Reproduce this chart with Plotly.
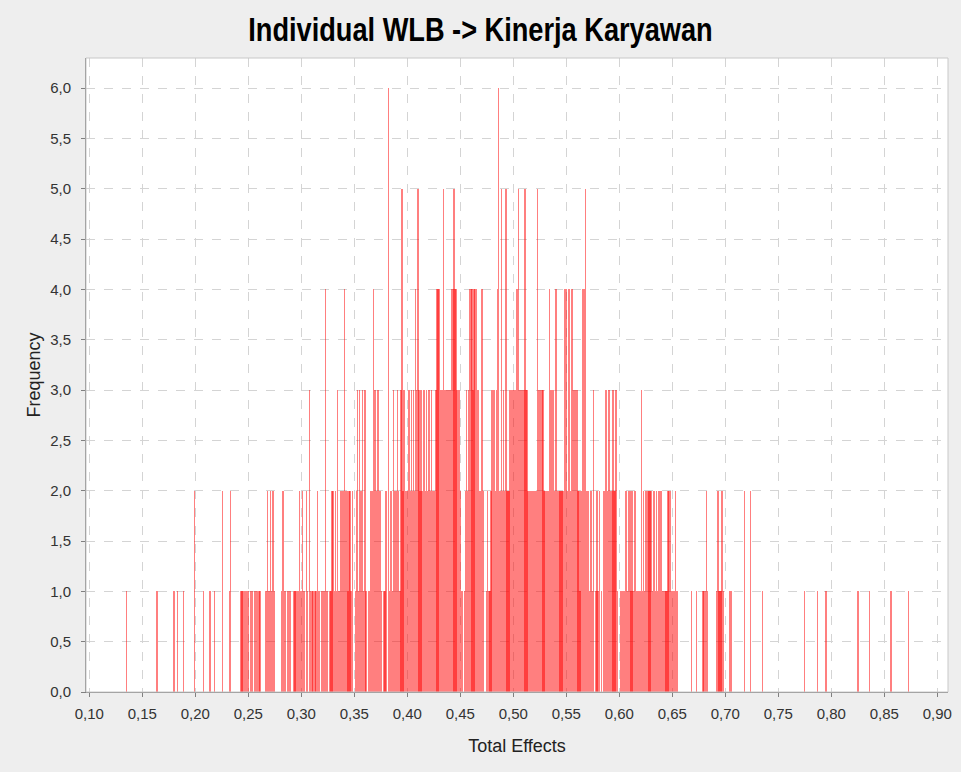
import plotly.graph_objects as go

# Histogram of bootstrap total effects: bins of width 0.001 starting at 0.130
bin_start = 0.130
bin_width = 0.001
frequency = [
    0,0,0,0,0,1,0,0,0,0,  # 0.13
    0,0,0,0,0,0,0,0,0,0,  # 0.14
    0,0,0,0,0,0,0,0,0,0,  # 0.15
    0,0,0,0,1,0,0,0,0,0,  # 0.16
    0,0,0,0,0,0,0,0,0,0,  # 0.17
    1,0,0,1,0,0,0,0,0,1,  # 0.18
    0,0,0,0,0,0,0,0,0,2,  # 0.19
    0,0,0,0,0,0,0,0,1,0,  # 0.20
    0,0,0,0,1,0,0,0,1,0,  # 0.21
    0,0,0,0,0,0,2,0,0,0,  # 0.22
    0,0,1,2,0,0,0,0,0,0,  # 0.23
    0,0,0,1,1,1,0,1,1,1,  # 0.24
    1,0,1,1,1,0,1,1,1,1,  # 0.25
    1,1,0,0,0,0,1,1,2,1,  # 0.26
    1,2,1,2,2,1,0,0,0,0,  # 0.27
    0,1,2,2,1,1,0,1,1,1,  # 0.28
    1,0,0,1,1,1,0,1,2,1,  # 0.29
    1,2,1,1,0,2,1,0,3,1,  # 0.30
    1,1,0,1,1,2,1,1,0,1,  # 0.31
    1,1,1,4,1,1,0,1,1,2,  # 0.32
    2,1,2,1,3,1,1,2,2,2,  # 0.33
    2,4,2,2,1,2,2,1,2,0,  # 0.34
    0,1,2,3,1,3,2,2,3,1,  # 0.35
    3,1,0,0,1,2,2,2,4,3,  # 0.36
    3,2,3,3,2,2,1,0,1,1,  # 0.37
    2,0,6,1,2,2,1,3,2,2,  # 0.38
    2,3,2,1,3,5,2,3,2,2,  # 0.39
    2,3,3,2,3,2,3,2,4,3,  # 0.40
    5,3,2,3,2,3,3,2,3,2,  # 0.41
    3,3,2,3,2,2,2,3,4,4,  # 0.42
    4,3,3,3,5,3,3,3,3,3,  # 0.43
    3,3,4,4,5,4,4,3,3,3,  # 0.44
    2,1,1,0,1,2,3,2,3,4,  # 0.45
    4,4,3,4,4,4,3,3,2,2,  # 0.46
    4,4,2,0,0,1,2,1,1,2,  # 0.47
    3,3,3,2,3,4,6,2,2,5,  # 0.48
    2,3,2,5,2,2,2,3,3,3,  # 0.49
    3,3,3,4,4,5,3,3,3,3,  # 0.50
    3,5,3,3,2,2,2,2,2,2,  # 0.51
    2,2,2,5,3,3,3,3,3,2,  # 0.52
    2,2,2,2,4,3,3,3,3,2,  # 0.53
    4,4,2,2,2,2,2,2,4,4,  # 0.54
    4,2,4,4,2,4,4,3,3,3,  # 0.55
    3,2,2,1,2,4,4,4,5,2,  # 0.56
    2,2,1,2,2,1,3,0,1,2,  # 0.57
    1,2,0,1,0,2,2,3,3,2,  # 0.58
    3,3,2,2,3,2,2,3,1,0,  # 0.59
    0,1,1,1,1,1,2,2,1,2,  # 0.60
    2,1,2,1,2,2,1,1,1,1,  # 0.61
    1,3,1,2,1,2,2,2,2,2,  # 0.62
    2,1,2,2,1,2,1,2,2,2,  # 0.63
    2,1,1,1,1,1,2,2,2,1,  # 0.64
    1,1,1,2,1,1,0,0,0,0,  # 0.65
    0,0,0,0,0,0,0,0,1,0,  # 0.66
    0,0,0,1,0,0,0,0,0,1,  # 0.67
    1,1,2,1,0,0,0,0,0,0,  # 0.68
    0,0,1,2,1,1,1,2,1,0,  # 0.69
    0,0,0,0,1,1,1,0,0,0,  # 0.70
    0,0,0,0,0,0,0,0,2,0,  # 0.71
    0,0,0,0,2,0,0,0,0,0,  # 0.72
    0,0,0,0,0,1,0,0,0,0,  # 0.73
    0,0,0,0,0,0,0,0,0,0,  # 0.74
    0,0,0,0,0,0,0,0,0,0,  # 0.75
    0,0,0,0,0,0,0,0,0,0,  # 0.76
    0,0,0,0,0,1,0,0,0,0,  # 0.77
    0,0,0,0,0,0,0,1,0,0,  # 0.78
    0,0,0,0,0,1,0,0,0,0,  # 0.79
    0,0,0,0,0,0,0,0,0,0,  # 0.80
    0,0,0,0,0,0,0,0,0,0,  # 0.81
    0,0,0,0,0,1,1,0,0,0,  # 0.82
    0,0,0,0,0,0,1,0,0,0,  # 0.83
    0,0,0,0,0,0,0,0,0,0,  # 0.84
    0,0,0,0,0,0,1,1,0,0,  # 0.85
    0,0,0,0,0,0,0,0,0,0,  # 0.86
    0,0,0,1,0,0,0,0,0,0,  # 0.87
]
x_ticks = [round(0.10 + 0.05 * i, 2) for i in range(17)]
y_ticks = [0.5 * i for i in range(13)]

bins = [bin_start + bin_width * i for i in range(len(frequency))]
xs = [b for b, f in zip(bins, frequency) if f > 0]
ys = [f for f in frequency if f > 0]

fig = go.Figure()
fig.add_trace(go.Bar(
    x=xs, y=ys, width=bin_width * 1.2,
    marker=dict(color="rgba(255,0,0,0.5)", line=dict(width=0)),
    showlegend=False,
))

font_family = "Liberation Sans, Arial, sans-serif"
fig.update_layout(
    width=961, height=772,
    paper_bgcolor="#eeeeee",
    plot_bgcolor="#ffffff",
    separators=",.",
    margin=dict(l=86, r=13, t=58, b=80, autoexpand=False),
    bargap=0,
    title=dict(text="<b>Individual WLB -> Kinerja Karyawan</b>", x=0.5, xanchor="center",
               y=1 - 29 / 772, yanchor="middle",
               font=dict(family=font_family, size=34, color="#000000")),
    font=dict(family=font_family, size=13, color="#333333"),
    xaxis=dict(
        range=[0.0969, 0.9101], tickvals=x_ticks, tickformat=".2f",
        showgrid=True, gridcolor="#d4d4d4", griddash="dash", gridwidth=1,
        showline=True, linecolor="#808080", linewidth=1,
        ticks="outside", ticklen=4, tickcolor="#808080",
        ticklabelstandoff=4,
        zeroline=False, automargin=False,
        title=dict(text="Total Effects", font=dict(size=18, color="#222222"), standoff=18),
        tickfont=dict(size=15, color="#333333"),
    ),
    yaxis=dict(
        range=[0, 6.30], tickvals=y_ticks, tickformat=".1f",
        showgrid=True, gridcolor="#d4d4d4", griddash="dash", gridwidth=1,
        showline=True, linecolor="#808080", linewidth=1,
        ticks="outside", ticklen=4, tickcolor="#808080",
        ticklabelstandoff=7,
        zeroline=False, automargin=False,
        title=dict(text="Frequency", font=dict(size=18, color="#222222"), standoff=4),
        tickfont=dict(size=15, color="#333333"),
    ),
    shapes=[dict(type="rect", xref="paper", yref="paper", x0=0, y0=0, x1=1, y1=1,
                 line=dict(color="#c8c8c8", width=1), fillcolor="rgba(0,0,0,0)", layer="above")],
)

post_js = """
document.body.style.margin = '0';
var t = document.querySelector('.gtitle');
if (t) {
  var bb = t.getBBox();
  var cx = bb.x + bb.width / 2;
  t.setAttribute('transform', 'translate(' + cx + ',0) scale(0.8,1) translate(' + (-cx) + ',0)');
}
"""

fig.write_html("out.html", post_script=post_js, config={"displayModeBar": False})
